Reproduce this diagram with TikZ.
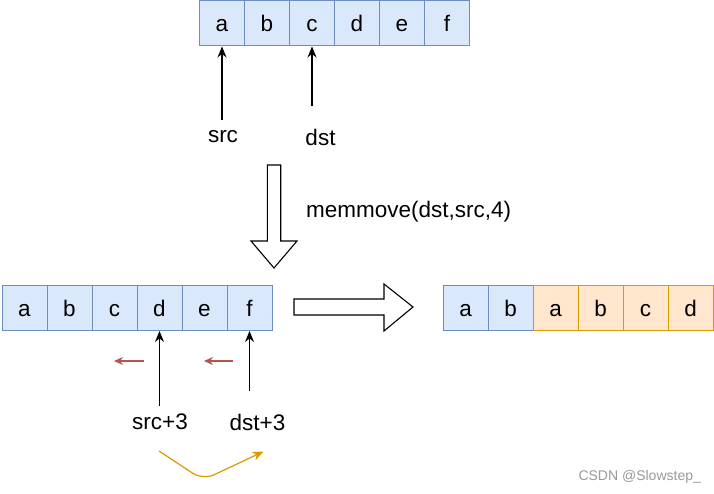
\documentclass[tikz,border=0pt]{standalone}
\usepackage{fontspec}
\setmainfont{Liberation Sans}
\usetikzlibrary{arrows.meta}
\definecolor{cellblue}{HTML}{DAE8FC}
\definecolor{edgeblue}{HTML}{6C8EBF}
\definecolor{cellorange}{HTML}{FFE6CC}
\definecolor{edgeorange}{HTML}{D79B00}
\definecolor{moveRed}{HTML}{B85450}
\tikzset{
  cell/.style={draw=edgeblue, fill=cellblue, line width=1pt, minimum width=45pt,
    minimum height=45pt, inner sep=0pt, text height=21pt, text depth=4pt,
    font=\fontsize{22.5}{22.5}\selectfont},
  newcell/.style={cell, draw=edgeorange, fill=cellorange},
  ptr/.style={-{Stealth[length=11pt,width=9pt]}, line width=1.2pt},
  lbl/.style={font=\fontsize{22.5}{22.5}\selectfont, inner sep=1pt},
  fat/.style={draw, line width=1.1pt, fill=white},
}

\begin{document}
\begin{tikzpicture}[x=1pt, y=-1pt]
    \useasboundingbox (0,0) rectangle (714,494);
    % before the move
    \foreach \c [count=\i] in {a,b,c,d,e,f}
        \node[cell] (top\i) at (177+45*\i,23.5) {\c};
    \node[lbl] (src) at (223,137) {src};
    \node[lbl] (dst) at (320.5,137) {dst};
    \coordinate (srcfoot) at (222,120);
    \coordinate (dstfoot) at (312,106);
    \draw[ptr] (srcfoot) -- (top1.south);
    \draw[ptr] (dstfoot) -- (top3.south);

    % the call
    \draw[fat] (267.3,165) -- (280.7,165) -- (280.7,241) -- (297,241) -- (274,268)
        -- (251,241) -- (267.3,241) -- cycle;
    \node[lbl, anchor=west] (call) at (305,212) {memmove(dst,src,4)};

    % copying from the back
    \foreach \c [count=\i] in {a,b,c,d,e,f}
        \node[cell] (bot\i) at (-20.5+45*\i,308) {\c};
    \node[lbl] (src3) at (160,422) {src+3};
    \node[lbl] (dst3) at (257.5,422) {dst+3};
    \coordinate (src3foot) at (159.5,406);
    \coordinate (dst3foot) at (249.5,391);
    \draw[ptr] (src3foot) -- (bot4.south);
    \draw[ptr] (dst3foot) -- (bot6.south);
    \coordinate (stepA) at (144,361);
    \coordinate (stepAend) at (114,361);
    \coordinate (stepB) at (233,361);
    \coordinate (stepBend) at (204,361);
    \draw[moveRed, line width=1.1pt, -{Stealth[length=9pt,width=8pt]}] (stepA) -- (stepAend);
    \draw[moveRed, line width=1.1pt, -{Stealth[length=9pt,width=8pt]}] (stepB) -- (stepBend);
    \coordinate (swapL) at (159,451);
    \coordinate (swapM) at (203,480);
    \coordinate (swapR) at (263.5,451.5);
    \draw[edgeorange, line width=1.2pt, rounded corners=12pt,
        -{Stealth[length=11pt,width=9pt]}] (swapL) -- (swapM) -- (swapR);

    % after the move
    \draw[fat] (294,299) -- (384,299) -- (384,284) -- (413,307) -- (384,331)
        -- (384,315) -- (294,315) -- cycle;
    \foreach \c/\s [count=\i] in {a/cell,b/cell,a/newcell,b/newcell,c/newcell,d/newcell}
        \node[\s] (res\i) at (420.5+45*\i,308) {\c};

    \node[text=black!40, font=\fontsize{14}{14}\selectfont, anchor=west] (mark) at (575,477) {CSDN @Slowstep\_};
\end{tikzpicture}
\end{document}
